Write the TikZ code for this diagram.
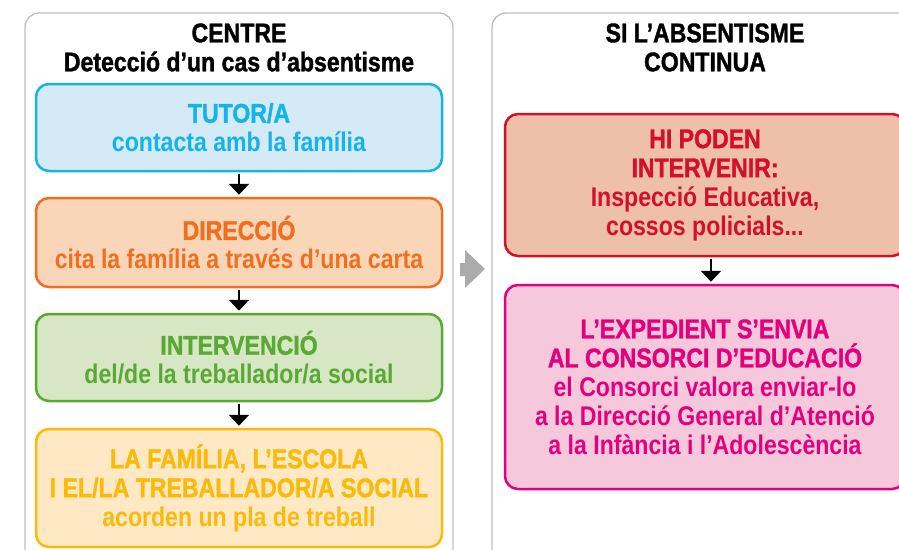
\documentclass[tikz,border=0pt]{standalone}
\usepackage{fontspec}
\setmainfont[FakeStretch=0.855]{Liberation Sans}
\usetikzlibrary{arrows.meta}
\definecolor{tutorblue}{RGB}{20,180,230}
\definecolor{tutorfill}{RGB}{212,234,247}
\definecolor{direcorange}{RGB}{240,110,30}
\definecolor{direcfill}{RGB}{250,214,184}
\definecolor{intergreen}{RGB}{88,170,50}
\definecolor{interfill}{RGB}{215,230,196}
\definecolor{plaamber}{RGB}{250,186,10}
\definecolor{plafill}{RGB}{255,232,196}
\definecolor{podenred}{RGB}{210,16,40}
\definecolor{podenfill}{RGB}{238,192,170}
\definecolor{expedpink}{RGB}{228,0,124}
\definecolor{expedfill}{RGB}{245,200,220}
\newcommand{\heavy}{\addfontfeature{FakeBold=1.3}}
\tikzset{
  panel/.style={draw=black!25, line width=1.3pt, rounded corners=14pt},
  title/.style={align=center, font=\fontsize{27}{29}\selectfont\bfseries\heavy},
  stepbox/.style={draw, line width=2.5pt, rounded corners=13pt, align=center,
    font=\fontsize{27}{29}\selectfont\bfseries},
  flow/.style={-{Stealth[length=11pt,width=20pt,inset=0pt]}, line width=2.5pt,
    shorten <=2pt, shorten >=2pt}
}
\begin{document}
\begin{tikzpicture}[x=1pt,y=-1pt]
\path[use as bounding box, clip] (0,0) rectangle (899,549);
% panels
\draw[panel] (25,13) rectangle (453,580);
\draw[panel] (492,13) rectangle (940,580);
\node[title] (centre) at (239,47.5) {CENTRE\\Detecció d’un cas d’absentisme};
\node[title] (continua) at (705,47.5) {SI L’ABSENTISME\\CONTINUA};
%
\node[stepbox, draw=tutorblue, fill=tutorfill, text=tutorblue, minimum width=406pt, minimum height=87pt]
  (tutor) at (239,127.5) {{\heavy TUTOR/A}\\contacta amb la família};
\node[stepbox, draw=direcorange, fill=direcfill, text=direcorange, minimum width=406pt, minimum height=89pt]
  (direccio) at (239,242.5) {{\heavy DIRECCIÓ}\\cita la família a través d’una carta};
\node[stepbox, draw=intergreen, fill=interfill, text=intergreen, minimum width=406pt, minimum height=87pt]
  (intervencio) at (239,357.5) {{\heavy INTERVENCIÓ}\\del/de la treballador/a social};
\node[stepbox, draw=plaamber, fill=plafill, text=plaamber, minimum width=406pt, minimum height=118pt]
  (pla) at (239,488) {{\heavy LA FAMÍLIA, L’ESCOLA}\\{\heavy I EL/LA TREBALLADOR/A SOCIAL}\\acorden un pla de treball};
\draw[flow] (tutor) -- (direccio);
\draw[flow] (direccio) -- (intervencio);
\draw[flow] (intervencio) -- (pla);
%
\node[stepbox, draw=podenred, fill=podenfill, text=podenred, minimum width=400pt, minimum height=142pt]
  (poden) at (705,185) {{\heavy HI PODEN}\\{\heavy INTERVENIR:}\\Inspecció Educativa,\\cossos policials...};
\node[stepbox, draw=expedpink, fill=expedfill, text=expedpink, minimum width=400pt, minimum height=204pt]
  (expedient) at (705,387) {{\heavy L’EXPEDIENT S’ENVIA}\\{\heavy AL CONSORCI D’EDUCACIÓ}\\el Consorci valora enviar-lo\\a la Direcció General d’Atenció\\a la Infància i l’Adolescència};
\draw[flow] ([xshift=6pt]poden.south) -- ([xshift=6pt]expedient.north);
%
\fill[black!33] (460,263) -- (465,263) -- (465,250) -- (485,269) -- (465,288) -- (465,276) -- (460,276) -- cycle;
\end{tikzpicture}
\end{document}
